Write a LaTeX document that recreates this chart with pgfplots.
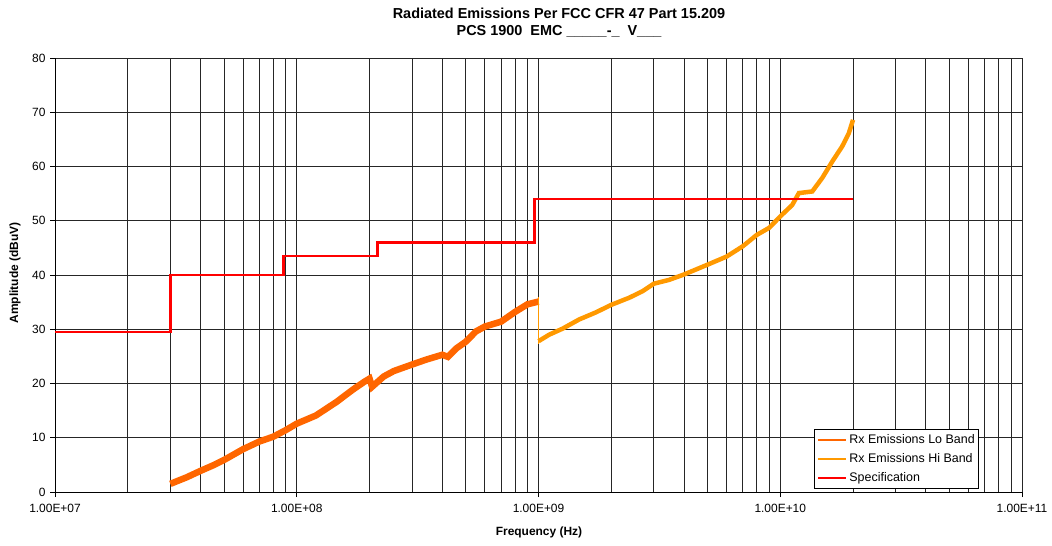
\documentclass[border=0pt]{standalone}
\usepackage{pgfplots}
\pgfplotsset{compat=1.18}
\usepackage{fontspec}
\setmainfont{Liberation Sans}
\definecolor{loband}{RGB}{255,102,0}
\definecolor{hiband}{RGB}{255,153,0}
\definecolor{specred}{RGB}{255,0,0}
\begin{document}
\begin{tikzpicture}
\useasboundingbox (0bp,0bp) rectangle (1052bp,546bp);
\begin{axis}[
  at={(55bp,54bp)}, anchor=south west,
  scale only axis, width=967bp, height=434bp,
  xmode=log, xmin=1e7, xmax=1e11, ymin=0, ymax=80,
  xtick={1e7,1e8,1e9,1e10,1e11},
  xticklabels={1.00E+07,1.00E+08,1.00E+09,1.00E+10,1.00E+11},
  minor xtick={2e7,3e7,4e7,5e7,6e7,7e7,8e7,9e7,2e8,3e8,4e8,5e8,6e8,7e8,8e8,9e8,2e9,3e9,4e9,5e9,6e9,7e9,8e9,9e9,2e10,3e10,4e10,5e10,6e10,7e10,8e10,9e10},
  ytick={0,10,...,80},
  grid=both,
  major grid style={black!85, line width=0.8bp},
  minor grid style={black!85, line width=0.8bp},
  axis lines=left, axis line style={-, black, line width=1bp},
  tick align=outside, major tick length=5bp, minor tick length=0bp,
  tick style={black, line width=0.8bp},
  ticklabel style={font=\fontsize{12}{14}\selectfont},
  /pgf/number format/assume math mode=true,
  yticklabel style={xshift=-1bp},
  xticklabel style={yshift=-4bp},
  legend style={at={(0.9555,0.007)}, anchor=south east, draw=black, line width=0.6bp,
    fill=white, font=\fontsize{12.5}{14}\selectfont, row sep=4.5bp, inner xsep=2bp, inner ysep=3.5bp},
  legend cell align=left,
  legend image code/.code={\draw[#1] (0bp,0bp) -- (28bp,0bp);},
]
% Lo band
\addplot[loband, line width=6.5bp, forget plot] coordinates {
(3.0e7,1.5) (3.5e7,2.7) (4.0e7,3.9) (4.5e7,4.9) (5.0e7,5.9) (6.0e7,7.9) (7.0e7,9.3)
(8.0e7,10.2) (9.0e7,11.4) (1.0e8,12.6) (1.2e8,14.1) (1.46e8,16.6) (1.71e8,18.9)
(1.9e8,20.3) (2.0e8,20.9) (2.05e8,19.4) (2.29e8,21.3) (2.52e8,22.3) (3.0e8,23.5)
(3.43e8,24.4) (4.0e8,25.3) (4.22e8,24.9) (4.58e8,26.5) (5.0e8,27.7) (5.51e8,29.6)
(6.0e8,30.5) (7.0e8,31.4) (8.0e8,33.2) (9.0e8,34.6) (1.0e9,35.1)
};
% Hi band drop
\addplot[hiband, line width=1.2bp, forget plot] coordinates {(1.0e9,36.0) (1.0e9,27.2)};
% Hi band
\addplot[hiband, line width=4.5bp, forget plot] coordinates {
(1.0e9,27.8) (1.107e9,29.0) (1.256e9,30.1) (1.472e9,31.8) (1.725e9,33.1) (2.0e9,34.5)
(2.37e9,35.8) (2.69e9,37.0) (3.0e9,38.4) (3.467e9,39.1) (4.0e9,40.1) (5.0e9,41.9)
(6.0e9,43.4) (7.0e9,45.3) (8.0e9,47.4) (9.0e9,48.7) (1.0e10,50.8) (1.12e10,52.9)
(1.194e10,55.1) (1.356e10,55.4) (1.492e10,57.9) (1.64e10,60.9) (1.803e10,63.7)
(1.92e10,66.1) (2.0e10,68.6)
};
% Specification
\addplot[specred, line width=2.8bp, forget plot] coordinates {
(1e7,29.5) (3e7,29.5) (3e7,40) (8.8e7,40) (8.8e7,43.5) (2.16e8,43.5) (2.16e8,46)
(9.6e8,46) (9.6e8,54) (2e10,54)
};
\addlegendimage{loband, line width=1.6bp}
\addlegendentry{Rx Emissions Lo Band}
\addlegendimage{hiband, line width=1.6bp}
\addlegendentry{Rx Emissions Hi Band}
\addlegendimage{specred, line width=2.8bp}
\addlegendentry{Specification}
\end{axis}
\node[font=\bfseries\fontsize{14.5}{16}\selectfont] at (559bp,533bp) {Radiated Emissions Per FCC CFR 47 Part 15.209};
\node[font=\bfseries\fontsize{14.5}{16}\selectfont] at (559bp,515bp) {PCS 1900\ \ EMC \_\_\_\_\_-\_\ \ V\_\_\_};
\node[font=\bfseries\fontsize{12}{14}\selectfont] at (539bp,14bp) {Frequency (Hz)};
\node[font=\bfseries\fontsize{12}{14}\selectfont, rotate=90] at (15bp,273bp) {Amplitude (dBuV)};
\end{tikzpicture}
\end{document}
